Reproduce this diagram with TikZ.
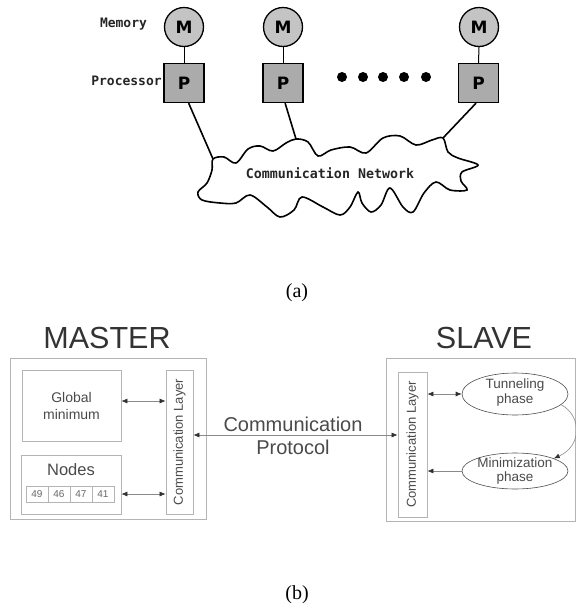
\documentclass[tikz,border=0pt]{standalone}
\usepackage{fontspec}
\setmainfont{Liberation Serif}
\newfontfamily\monob{DejaVu Sans Mono}
\newfontfamily\dsans{DejaVu Sans}
\newfontfamily\arialf{Liberation Sans}
\usetikzlibrary{shapes.geometric,arrows.meta,calc}
\definecolor{memfill}{HTML}{C4C4C4}
\definecolor{procfill}{HTML}{ABABAB}
\definecolor{boxline}{HTML}{B4B4B4}
\definecolor{btext}{HTML}{4A4A4A}
\definecolor{arrc}{HTML}{8A8A8A}
\definecolor{tipc}{HTML}{303030}
\tikzset{
 mem/.style={circle, draw=black, line width=1.3pt, fill=memfill, minimum size=39pt, inner sep=0pt, font=\dsans\bfseries\fontsize{17}{17}\selectfont},
 proc/.style={rectangle, draw=black, line width=1.3pt, fill=procfill, minimum width=40pt, minimum height=39pt, inner sep=0pt, font=\dsans\bfseries\fontsize{17}{17}\selectfont},
 lbl/.style={font=\monob\bfseries\fontsize{13}{13}\selectfont, text=black!85, inner sep=0pt},
 wire/.style={line width=1.6pt, draw=black},
 thinw/.style={line width=1pt, draw=black},
 dotn/.style={circle, fill=black, minimum size=10pt, inner sep=0pt},
 gbox/.style={rectangle, draw=boxline, line width=0.8pt, inner sep=0pt},
 btxt/.style={font=\arialf\fontsize{14}{17}\selectfont, text=btext, align=center, inner sep=0pt},
 arr/.style={draw=arrc, line width=0.6pt},
 dbl/.style={{Latex[length=6pt,width=5pt,color=tipc]}-{Latex[length=6pt,width=5pt,color=tipc]}},
 sgl/.style={-{Latex[length=6pt,width=5pt,color=tipc]}},
 ell/.style={ellipse, draw=black!70, line width=0.6pt, inner sep=0pt},
 capt/.style={font=\fontsize{20}{20}\selectfont, inner sep=0pt},
 big/.style={font=\arialf\fontsize{30.5}{31}\selectfont, text=black!80, inner sep=0pt}
}
\begin{document}
\begin{tikzpicture}[x=1pt,y=-1pt]
\useasboundingbox (0,0) rectangle (576,611);
% ---------- part (a)
\node[lbl] (memlbl) at (123.5,24) {Memory};
\node[lbl] (proclbl) at (126.5,81) {Processor};
\node[mem] (m1) at (184,27) {M};
\node[mem] (m2) at (283,27) {M};
\node[mem] (m3) at (479,27) {M};
\node[proc] (p1) at (184,83) {P};
\node[proc] (p2) at (283,83) {P};
\node[proc] (p3) at (478.5,83) {P};
\draw[thinw] (m1.south) -- (p1.north);
\draw[thinw] (m2.south) -- (p2.north);
\draw[thinw] (m3.south) -- (p3.north);
\foreach \i/\x in {1/342,2/363,3/383,4/404,5/426}{
  \node[dotn] (d\i) at (\x,77) {};
}
\draw[wire] plot[smooth cycle, tension=0.55] coordinates {
(213,159) (224,157) (236,163) (248,149) (260,146) (273,151) (286,143) (296,139)
(308,142) (318,156) (331,150) (350,147) (366,153) (383,138) (400,136) (416,145)
(432,140) (443,138) (448,152) (458,158) (478,165) (462,172) (461,181) (467,190)
(450,190) (436,182) (424,193) (413,212) (403,207) (390,188) (381,205) (371,212)
(362,203) (358,192) (350,207) (340,215) (323,207) (302,197) (294,210) (280,217)
(267,207) (250,195) (236,203) (220,203) (202,200) (198,192) (207,183) (212,170)};
\node[lbl, font=\monob\bfseries\fontsize{13.3}{14}\selectfont] (net) at (330,173) {Communication Network};
\coordinate (j1) at (213,159);
\coordinate (j2) at (296,139);
\coordinate (j3) at (443,138);
\draw[wire] (p1.283) -- (j1);
\draw[wire] (p2.276) -- (j2);
\draw[wire] (p3.263) -- (j3);
\node[capt] (capa) at (297,293) {(a)};
% ---------- part (b)
\node[big] (mastert) at (107,338) {MASTER};
\node[big] (slavet) at (484,338) {SLAVE};
\node[gbox, minimum width=196pt, minimum height=161pt] (mbox) at (108,438.5) {};
\node[gbox, minimum width=99pt, minimum height=71pt, btxt] (gmin) at (71.5,405.5) {Global\\minimum};
\node[gbox, minimum width=100pt, minimum height=59pt] (nbox) at (71,484.5) {};
\node[btxt, font=\arialf\fontsize{16.5}{17}\selectfont] (nlbl) at (71,470) {Nodes};
\foreach \i/\x/\v in {1/37/49,2/59/46,3/81/47,4/103/41}{
  \node[gbox, minimum width=22pt, minimum height=16pt, font=\arialf\fontsize{10}{10}\selectfont, text=black!60] (c\i) at (\x,494) {\v};
}
\node[gbox, minimum width=27pt, minimum height=144pt] (mcl) at (179.5,442) {};
\node[btxt, rotate=90, font=\arialf\fontsize{13}{13}\selectfont] (mcltxt) at (mcl.center) {Communication Layer};
\node[gbox, minimum width=189pt, minimum height=163pt] (sbox) at (480.5,439.5) {};
\node[gbox, minimum width=29pt, minimum height=145pt] (scl) at (412.5,444.5) {};
\node[btxt, rotate=90, font=\arialf\fontsize{13}{13}\selectfont] (scltxt) at (scl.center) {Communication Layer};
\node[ell, minimum width=106pt, minimum height=42pt] (tun) at (515,394) {};
\node[btxt, font=\arialf\fontsize{13.5}{15}\selectfont] (tuntxt) at (515,392.5) {Tunneling\\phase};
\node[ell, minimum width=106pt, minimum height=36pt] (minz) at (515,471) {};
\node[btxt, font=\arialf\fontsize{13.5}{14}\selectfont] (minztxt) at (515,471) {Minimization\\phase};
\node[btxt, font=\arialf\fontsize{20}{23}\selectfont] (proto) at (293,435.5) {Communication\\Protocol};
% arrows
\draw[arr, dbl] ([yshift=4.5pt]gmin.east) -- ([yshift=4.5pt]gmin.east -| mcl.west);
\draw[arr, dbl] ([yshift=-9.5pt]nbox.east) -- ([yshift=-9.5pt]nbox.east -| mcl.west);
\draw[arr, dbl] ([yshift=7pt]mcl.east) -- ([yshift=7pt]mcl.east -| scl.west);
\draw[arr, dbl] (tun.west -| scl.east) -- (tun.west);
\draw[arr, sgl] (minz.west) -- (minz.west -| scl.east);
\draw[arr, sgl] (tun.347) .. controls (582,416) and (582,446) .. (minz.18);
\node[capt] (capb) at (297,595) {(b)};
\end{tikzpicture}
\end{document}
